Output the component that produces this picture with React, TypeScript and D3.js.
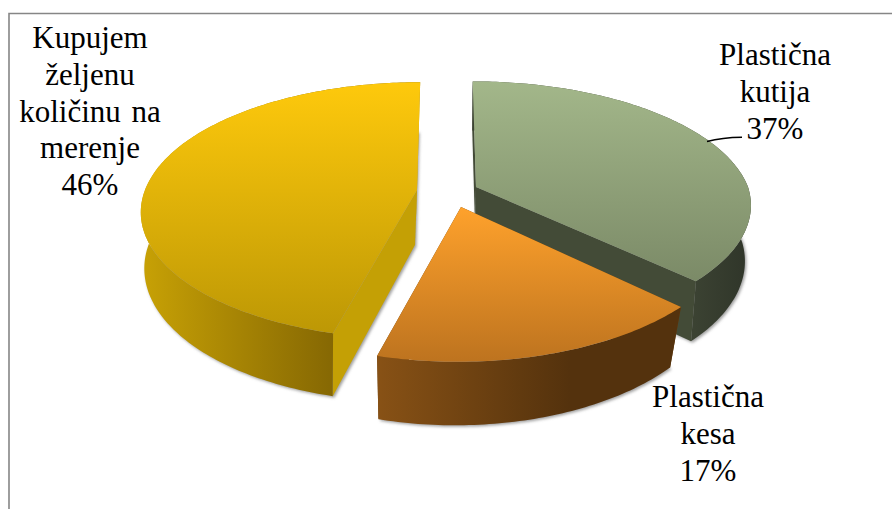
import React from "react";
import * as d3 from "d3";

// Share of each packaging choice, clockwise from twelve o'clock.
const categories = ["Plastična kutija", "Plastična kesa", "Kupujem željenu količinu na merenje"];
const shares = [37, 17, 46];

const W = 892;
const H = 509;
const FONT = "'Liberation Serif', 'Times New Roman', serif";

// Where each exploded wedge's tip lands on the page, its apparent depth scale, and its paint.
const looks = [
  { key: "green", tip: [476, 187], scaleY: 0.98, floorX: 0.98, floorShift: -0.5, topFrom: "#a3b78a", topTo: "#7b8a67", wallFrom: "#3c4333", wallTo: "#2f3529", cut: "#434b37", gradY: [81, 282], wallX: [690, 750] },
  { key: "orange", tip: [461, 207], scaleY: 1.04, floorX: 0.96, floorShift: -2, topFrom: "#ffa22c", topTo: "#bd731f", wallFrom: "#875115", wallTo: "#54320d", cut: "#6a4010", gradY: [206, 362], wallX: [380, 570] },
  { key: "yellow", tip: [417, 190], scaleY: 1, floorX: 0.98, floorShift: -2, topFrom: "#fec90c", topTo: "#bd9805", wallFrom: "#c6a005", wallTo: "#856703", cut: "#c4a005", gradY: [83, 332], wallX: [146, 335] },
];
const paintOrder = [2, 0, 1];

// Text blocks beside the wedges: one centre, first baseline, then the lines.
const labels = [
  { cx: 775, y: 65, lines: ["Plastična", "kutija", "37%"] },
  { cx: 708, y: 407, lines: ["Plastična", "kesa", "17%"] },
  { cx: 90, y: 48, lines: ["Kupujem", "željenu", "količinu na", "merenje", "46%"] },
];

// Perspective camera for the tilted disc.
const RX = 272;
const RY = 125;
const PERSP = 0.16;
const CENTRE_X = 446;
const CONVERGE = 0.8;
const SHEAR = 4;
const DROP = 55;
const FLOOR_Y = 1.055;

type Pt = [number, number];
type Look = (typeof looks)[number];

const projectTop = (look: Look, a: number): Pt => {
  const [tx, ty] = look.tip;
  const x = Math.sin(a);
  const y = -Math.cos(a);
  const w = 1 / (1 - PERSP * y);
  const converge = CONVERGE * (tx - CENTRE_X) * (Math.min(w, 1) - 1);
  return [
    tx + RX * x * w + converge - SHEAR * Math.max(y, 0),
    ty + look.scaleY * RY * y * w,
  ];
};

const toFloor = (look: Look, p: Pt): Pt => [
  look.tip[0] + look.floorShift + look.floorX * (p[0] - look.tip[0]),
  look.tip[1] + DROP + FLOOR_Y * (p[1] - look.tip[1]),
];

const rimLine = d3.line<Pt>().x((d) => d[0]).y((d) => d[1]);

const sampleAngles = (a0: number, a1: number) => {
  const n = Math.max(2, Math.ceil((a1 - a0) * 60));
  const s = d3.scaleLinear().domain([0, n]).range([a0, a1]);
  return d3.range(n + 1).map((i) => s(i));
};

export default function App() {
  const wedges = d3.pie<number>().sort(null).startAngle(0).endAngle(2 * Math.PI)(shares);

  const shapes = wedges.map((wedge, i) => {
    const look = looks[i];
    const angles = sampleAngles(wedge.startAngle, wedge.endAngle);
    const rim = angles.map((a) => projectTop(look, a));
    const floorRim = rim.map((p) => toFloor(look, p));
    const tipPt: Pt = [look.tip[0], look.tip[1]];
    const floorTip = toFloor(look, tipPt);
    return {
      look,
      top: rimLine([tipPt, ...rim])! + "Z",
      floor: rimLine([floorTip, ...floorRim])! + "Z",
      wall: rimLine([...rim, ...[...floorRim].reverse()])! + "Z",
      cutStart: rimLine([tipPt, rim[0], floorRim[0], floorTip])! + "Z",
      cutEnd: rimLine([tipPt, rim[rim.length - 1], floorRim[floorRim.length - 1], floorTip])! + "Z",
    };
  });

  return (
    <svg
      width={W}
      height={H}
      viewBox={`0 0 ${W} ${H}`}
      style={{ position: "absolute", left: 0, top: 0, background: "#fff" }}
    >
      <defs>
        <filter id="floorShadow" x="-10%" y="-10%" width="120%" height="120%">
          <feGaussianBlur stdDeviation="1.4" />
        </filter>
        {shapes.map(({ look }) => (
          <React.Fragment key={look.key}>
            <linearGradient
              id={`top-${look.key}`}
              gradientUnits="userSpaceOnUse"
              x1={0}
              x2={0}
              y1={look.gradY[0]}
              y2={look.gradY[1]}
            >
              <stop offset="0" stopColor={look.topFrom} />
              <stop offset="1" stopColor={look.topTo} />
            </linearGradient>
            <linearGradient
              id={`wall-${look.key}`}
              gradientUnits="userSpaceOnUse"
              x1={look.wallX[0]}
              x2={look.wallX[1]}
              y1={0}
              y2={0}
            >
              <stop offset="0" stopColor={look.wallFrom} />
              <stop offset="1" stopColor={look.wallTo} />
            </linearGradient>
          </React.Fragment>
        ))}
      </defs>

      {/* Chart frame: the right and bottom sides fall outside the page */}
      <path d={`M9 ${H} V13.5 H${W}`} fill="none" stroke="#868686" strokeWidth={1.6} />

      {paintOrder.map((i) => {
        const s = shapes[i];
        return (
          <g key={s.look.key}>
            <path
              d={s.floor}
              fill="#7f7f7f"
              fillOpacity={0.75}
              filter="url(#floorShadow)"
              transform="translate(1.5,1.5)"
            />
            <path d={s.cutStart} fill={s.look.cut} />
            <path d={s.cutEnd} fill={s.look.cut} />
            <path d={s.wall} fill={`url(#wall-${s.look.key})`} />
            <path d={s.top} fill={`url(#top-${s.look.key})`} />
          </g>
        );
      })}

      {/* Leader from the green wedge to its percentage */}
      <path d="M707 141.5 Q722 137.5 742 137.3" fill="none" stroke="#000" strokeWidth={1.4} />

      {labels.map((block, b) => (
        <text
          key={categories[b]}
          fontFamily={FONT}
          fontSize={31}
          fill="#000"
          textAnchor="middle"
          wordSpacing={3}
        >
          {block.lines.map((line, j) => (
            <tspan key={j} x={block.cx} y={block.y + j * 36.8}>
              {line}
            </tspan>
          ))}
        </text>
      ))}
    </svg>
  );
}
